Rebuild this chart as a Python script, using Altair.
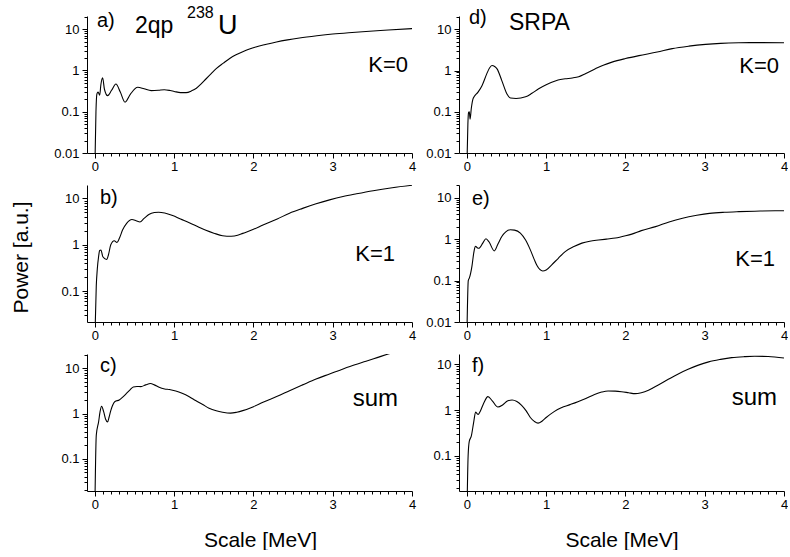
import altair as alt
import pandas as pd

FONT = "Liberation Sans"

# ---------------- data ----------------
a_x = [0.0, 0.013, 0.025, 0.04, 0.06, 0.075, 0.097, 0.12, 0.16, 0.21, 0.265, 0.32, 0.38, 0.45, 0.54, 0.62,
       0.71, 0.80, 0.875, 0.95, 1.0, 1.08, 1.15, 1.22, 1.28, 1.34, 1.40, 1.47, 1.53, 1.62, 1.70, 1.78,
       1.865, 1.95, 2.03, 2.15, 2.29, 2.43, 2.58, 2.8, 3.0, 3.2, 3.42, 3.7, 4.0]
a_y = [0.005, 0.1, 0.27, 0.30, 0.25, 0.45, 0.66, 0.35, 0.245, 0.33, 0.47, 0.30, 0.17, 0.27, 0.39, 0.36,
       0.325, 0.33, 0.34, 0.325, 0.31, 0.29, 0.29, 0.32, 0.37, 0.47, 0.62, 0.85, 1.1, 1.5, 1.95, 2.4,
       2.85, 3.3, 3.7, 4.25, 4.9, 5.5, 6.1, 6.9, 7.6, 8.2, 8.8, 9.5, 10.3]

d_x = [0.0, 0.012, 0.02, 0.03, 0.04, 0.055, 0.075, 0.09, 0.14, 0.19, 0.25, 0.285, 0.316, 0.35, 0.38, 0.44,
       0.505, 0.55, 0.62, 0.74, 0.82, 0.905, 1.0, 1.07, 1.15, 1.24, 1.33, 1.41, 1.5, 1.62, 1.72, 1.83,
       2.0, 2.17, 2.4, 2.59, 2.8, 3.01, 3.2, 3.43, 3.7, 4.0]
d_y = [0.005, 0.05, 0.095, 0.1, 0.066, 0.12, 0.2, 0.23, 0.3, 0.43, 0.83, 1.15, 1.32, 1.25, 1.1, 0.57,
       0.27, 0.215, 0.21, 0.23, 0.28, 0.36, 0.45, 0.52, 0.59, 0.63, 0.66, 0.71, 0.85, 1.1, 1.35, 1.6,
       1.95, 2.3, 2.8, 3.4, 3.9, 4.3, 4.55, 4.7, 4.75, 4.7]

b_x = [0.0, 0.017, 0.03, 0.046, 0.06, 0.076, 0.1, 0.147, 0.17, 0.2, 0.244, 0.278, 0.31, 0.35, 0.4, 0.467,
       0.52, 0.568, 0.62, 0.686, 0.75, 0.804, 0.88, 0.98, 1.08, 1.19, 1.30, 1.40, 1.50, 1.61, 1.72, 1.80,
       1.865, 2.0, 2.12, 2.3, 2.455, 2.62, 2.79, 2.96, 3.13, 3.3, 3.51, 3.75, 4.0]
b_y = [0.01, 0.13, 0.3, 0.55, 0.75, 0.77, 0.55, 0.48, 0.6, 1.0, 1.22, 1.12, 1.4, 2.1, 2.9, 3.5,
       3.3, 3.1, 3.7, 4.57, 4.95, 5.05, 4.85, 4.27, 3.6, 3.0, 2.45, 2.05, 1.78, 1.57, 1.53, 1.6,
       1.76, 2.15, 2.68, 3.6, 4.8, 6.1, 7.65, 9.3, 11.0, 12.6, 14.7, 17.0, 19.2]

e_x = [0.0, 0.017, 0.03, 0.063, 0.085, 0.097, 0.11, 0.13, 0.15, 0.2, 0.24, 0.28, 0.345, 0.39, 0.44, 0.49,
       0.547, 0.6, 0.674, 0.74, 0.8, 0.85, 0.884, 0.956, 1.0, 1.07, 1.15, 1.24, 1.35, 1.45, 1.55, 1.66,
       1.76, 1.874, 2.0, 2.08, 2.2, 2.38, 2.55, 2.72, 2.9, 3.06, 3.25, 3.43, 3.7, 4.0]
e_y = [0.005, 0.1, 0.114, 0.22, 0.45, 0.6, 0.67, 0.62, 0.6, 0.8, 1.02, 0.85, 0.52, 0.75, 1.16, 1.5,
       1.68, 1.65, 1.4, 0.95, 0.55, 0.32, 0.23, 0.17, 0.18, 0.24, 0.34, 0.5, 0.66, 0.8, 0.89, 0.95,
       1.0, 1.06, 1.2, 1.32, 1.6, 2.0, 2.6, 3.2, 3.75, 4.18, 4.45, 4.6, 4.75, 4.85]

c_x = [0.0, 0.017, 0.046, 0.065, 0.084, 0.11, 0.135, 0.16, 0.18, 0.2, 0.253, 0.307, 0.35, 0.39, 0.44, 0.484,
       0.53, 0.58, 0.64, 0.70, 0.75, 0.81, 0.88, 0.94, 1.02, 1.1, 1.19, 1.27, 1.36, 1.44, 1.53, 1.61,
       1.71, 1.79, 1.865, 2.0, 2.12, 2.3, 2.455, 2.62, 2.79, 2.96, 3.13, 3.28, 3.42, 3.56, 3.70, 3.85]
c_y = [0.01, 0.33, 0.65, 1.1, 1.45, 1.1, 0.75, 0.65, 0.85, 1.16, 1.84, 2.0, 2.3, 2.7, 3.3, 3.87,
       3.95, 3.94, 4.3, 4.6, 4.3, 3.8, 3.5, 3.4, 3.15, 2.8, 2.35, 1.94, 1.58, 1.31, 1.15, 1.07,
       1.02, 1.07, 1.16, 1.42, 1.78, 2.4, 3.2, 4.3, 5.8, 7.5, 9.7, 12.0, 14.3, 17.2, 20.7, 24.5]

f_x = [0.0, 0.015, 0.03, 0.055, 0.084, 0.11, 0.125, 0.143, 0.17, 0.21, 0.265, 0.32, 0.39, 0.45, 0.51, 0.57,
       0.63, 0.69, 0.75, 0.8, 0.85, 0.897, 0.95, 1.0, 1.1, 1.19, 1.30, 1.40, 1.5, 1.61, 1.70, 1.78,
       1.87, 1.95, 2.04, 2.12, 2.2, 2.29, 2.42, 2.54, 2.66, 2.79, 2.92, 3.05, 3.2, 3.34, 3.5, 3.63, 3.8, 4.0]
f_y = [0.005, 0.1, 0.21, 0.27, 0.53, 0.91, 0.85, 0.81, 0.96, 1.4, 1.97, 1.6, 1.17, 1.3, 1.58, 1.67,
       1.55, 1.27, 0.95, 0.69, 0.57, 0.52, 0.58, 0.69, 0.93, 1.13, 1.32, 1.53, 1.8, 2.2, 2.48, 2.62,
       2.6, 2.53, 2.4, 2.29, 2.4, 2.71, 3.6, 4.7, 6.1, 7.77, 9.6, 11.3, 12.8, 14.0, 14.7, 15.0, 14.8, 13.7]

# y-axis ranges of the panels
y_domains = {
    "a": [0.01, 20.8], "d": [0.01, 21.0],
    "b": [0.0215, 19.5], "e": [0.01, 20.2],
    "c": [0.0194, 20.7], "f": [0.0172, 16.8],
}

x_major = [0, 1, 2, 3, 4]
x_minor = [round(k / 10, 1) for k in range(1, 40) if k % 10 != 0]
y_major = [0.01, 0.1, 1, 10]
y_minor = [m * 10.0 ** e for e in (-2, -1, 0, 1) for m in range(2, 10)]

x_title = "Scale [MeV]"
y_title = "Power [a.u.]"

W, H = 325, 137


def text_layer(label, x, y, size, align="left"):
    return alt.Chart(pd.DataFrame({"t": [label]})).mark_text(
        font=FONT, fontSize=size, align=align, baseline="alphabetic", color="black"
    ).encode(text="t:N", x=alt.value(x), y=alt.value(y))


def panel(xs, ys, ydom, texts, xtitle=None, xtitle_x=None, ytitle=None):
    df = pd.DataFrame({"x": xs, "y": ys})
    ymin = ydom[0]
    xscale = alt.Scale(domain=[-0.1, 4], nice=False, zero=False)
    yscale = alt.Scale(type="log", domain=ydom, nice=False)

    xaxis_kw = dict(values=x_major, format="d", tickSize=5, labelFontSize=13, labelPadding=2,
                    orient="bottom", grid=False, labelFont=FONT, labelColor="black",
                    tickColor="black", domainColor="black", labelFlush=False, labelOverlap=False)
    if xtitle:
        xaxis_kw.update(title=xtitle, titleFontSize=21, titleFont=FONT, titleFontWeight="normal",
                        titleColor="black", titleY=55, titleBaseline="alphabetic")
        if xtitle_x is not None:
            xaxis_kw["titleX"] = xtitle_x
    else:
        xaxis_kw["title"] = None

    yvals = [v for v in y_major if v >= ymin * 0.999]
    yaxis_kw = dict(values=yvals, format="~g", tickSize=5, labelFontSize=13, labelPadding=3,
                    orient="left", grid=False, labelFont=FONT, labelColor="black",
                    tickColor="black", domainColor="black", labelFlush=False, labelOverlap=False)
    if ytitle:
        yaxis_kw.update(title=ytitle, titleFontSize=21, titleFont=FONT, titleFontWeight="normal",
                        titleColor="black", titleX=-66, titleY=72, titleBaseline="middle",
                        titleAlign="center", titleAngle=270)
    else:
        yaxis_kw["title"] = None

    line = alt.Chart(df).mark_line(color="black", strokeWidth=1.1, clip=True,
                                   interpolate="monotone").encode(
        x=alt.X("x:Q", scale=xscale, axis=alt.Axis(**xaxis_kw)),
        y=alt.Y("y:Q", scale=yscale, axis=alt.Axis(**yaxis_kw)),
    )
    minor = alt.Chart(df).mark_line(opacity=0).encode(
        x=alt.X("x:Q", scale=xscale, axis=alt.Axis(values=x_minor, labels=False, tickSize=3,
                                                   domain=False, grid=False, title=None,
                                                   orient="bottom", tickColor="black")),
        y=alt.Y("y:Q", scale=yscale, axis=alt.Axis(values=[v for v in y_minor if ydom[0] <= v <= ydom[1]],
                                                   labels=False, tickSize=3, domain=False,
                                                   grid=False, title=None, orient="left",
                                                   tickColor="black")),
    )
    layers = [line, minor] + [text_layer(*t) for t in texts]
    return alt.layer(*layers).resolve_axis(x="independent", y="independent").properties(
        width=W, height=H)


pa = panel(a_x, a_y, y_domains["a"], [("a)", 10, 11, 20), ("2qp", 48, 17, 23), ("238", 100, 2, 16),
                                      ("U", 131, 18, 27), ("K=0", 321, 56, 22, "right")])
pd_ = panel(d_x, d_y, y_domains["d"], [("d)", 10, 8, 20), ("SRPA", 50, 14, 23),
                                       ("K=0", 320, 57, 22, "right")])
pb = panel(b_x, b_y, y_domains["b"], [("b)", 13, 19, 20), ("K=1", 308, 76, 22, "right")],
           ytitle=y_title)
pe = panel(e_x, e_y, y_domains["e"], [("e)", 13, 20, 20), ("K=1", 316, 81, 22, "right")])
pc = panel(c_x, c_y, y_domains["c"], [("c)", 13, 18, 20), ("sum", 311, 52, 24, "right")],
           xtitle=x_title, xtitle_x=173)
pf = panel(f_x, f_y, y_domains["f"], [("f)", 13, 18, 20), ("sum", 318, 51, 24, "right")],
           xtitle=x_title)

chart = alt.concat(pa, pd_, pb, pe, pc, pf, columns=2,
                   spacing=alt.RowColnumber(row=32, column=47), bounds="flush", align="all").properties(
    padding={"left": 10, "top": 5, "right": 0, "bottom": 0},
    background="white",
).configure_view(stroke=None)

chart.save("out.html", embed_options={"renderer": "svg", "actions": False})
